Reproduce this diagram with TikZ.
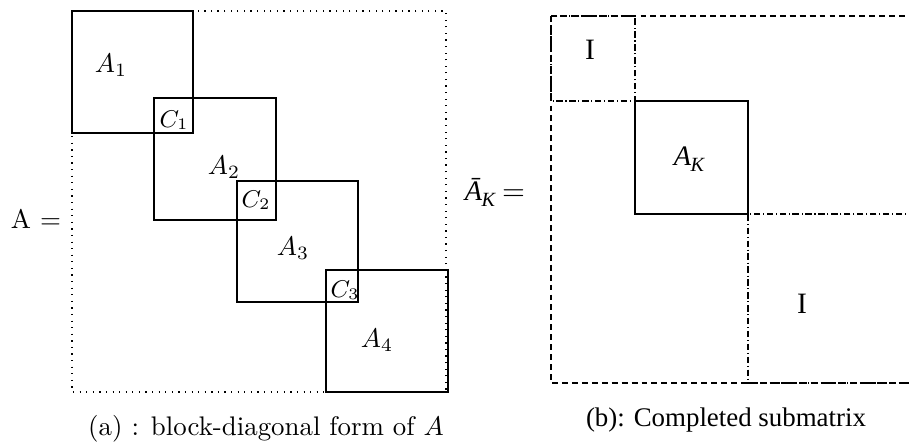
\documentclass[tikz,border=0pt]{standalone}
\usepackage{fontspec}
\newfontfamily\timesfont{Liberation Serif}
\tikzset{
  blockline/.style={line width=0.45pt},
  outerdot/.style={dotted, line width=0.45pt},
  outerdash/.style={dash pattern=on 2.2pt off 1.5pt, line width=0.4pt},
  identline/.style={dash pattern=on 2.4pt off 1pt on 0.4pt off 1pt, line width=0.4pt},
  lbl/.style={draw=none, anchor=base, inner sep=0pt}
}
\begin{document}
\begin{tikzpicture}[x=0.372pt, y=-0.372pt]
    \useasboundingbox (0,0) rectangle (909,445);

    % (a) block-diagonal form
    \draw[outerdot] (72,11) rectangle (446,392);
    \draw[blockline] (72,11) rectangle (193,133);
    \draw[blockline] (154,98) rectangle (276,220);
    \draw[blockline] (237,181) rectangle (358,302);
    \draw[blockline] (326,270) rectangle (448,392);

    \node[lbl, node font=\normalsize] (lhsA) at (36,228) {A $=$};
    \node[lbl, node font=\normalsize] (blkA1) at (111,72) {$A_1$};
    \node[lbl, node font=\small] (ovlC1) at (174,127) {$C_1$};
    \node[lbl, node font=\normalsize] (blkA2) at (224,174) {$A_2$};
    \node[lbl, node font=\small] (ovlC2) at (256,207) {$C_2$};
    \node[lbl, node font=\normalsize] (blkA3) at (293,255) {$A_3$};
    \node[lbl, node font=\small] (ovlC3) at (345,297) {$C_3$};
    \node[lbl, node font=\normalsize] (blkA4) at (377,347) {$A_4$};
    \node[lbl, node font=\normalsize] (capA) at (266,435) {(a) : block-diagonal form of $A$};

    % (b) completed submatrix
    \draw[outerdash] (551,16) -- (915,16);
    \draw[outerdash] (551,16) -- (551,383) -- (915,383);
    \draw[identline] (551,16) rectangle (635,101);
    \draw[identline] (915,214) -- (748,214) -- (748,383) -- (915,383);
    \draw[blockline] (635,101) rectangle (748,214);

    \node[lbl, node font=\timesfont\fontsize{11}{13}\selectfont] (idTop) at (590,59) {I};
    \node[lbl, node font=\timesfont\fontsize{11}{13}\selectfont] (idBot) at (802,313) {I};
    \node[lbl, node font=\timesfont\fontsize{10.5}{12}\selectfont] (blkAK) at (689,165) {\itshape A\kern-0.02em\raisebox{-0.5ex}{\fontsize{7.5}{9}\selectfont K}};
    \node[lbl, node font=\timesfont\fontsize{10.5}{12}\selectfont] (lhsAK) at (495,200) {\itshape Ā\kern-0.02em\raisebox{-0.5ex}{\fontsize{7.5}{9}\selectfont K}\upshape\ $=$};
    \node[lbl, node font=\timesfont] (capB) at (726,426) {(b): Completed submatrix};

\end{tikzpicture}
\end{document}
